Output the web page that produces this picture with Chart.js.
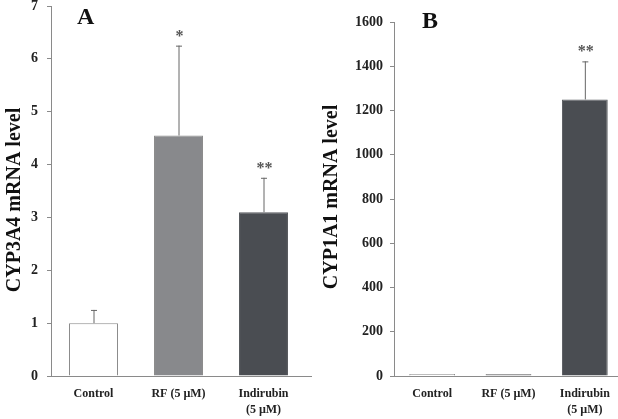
<!DOCTYPE html>
<html>
<head>
<meta charset="utf-8">
<script src="https://cdn.jsdelivr.net/npm/chart.js@4.4.1/dist/chart.umd.min.js"></script>
<style>
    body { margin: 0; background: #fff; overflow: hidden; }
    .panel { position: absolute; top: 0; height: 419px; }
    #panelA { left: 0; width: 312px; }
    #panelB { left: 310px; width: 313px; }
    .letter { position: absolute; font: bold 24px "Liberation Serif", serif; color: #111; line-height: 1; }
</style>
</head>
<body>
<div class="panel" id="panelA"><canvas id="chartA"></canvas></div>
<div class="panel" id="panelB"><canvas id="chartB"></canvas></div>
<div class="letter" style="left:77px; top:4px;">A</div>
<div class="letter" style="left:422px; top:8px;">B</div>
<script>
// Data
const categories = [['Control'], ['RF (5 µM)'], ['Indirubin', '(5 µM)']];
const cyp3a4Values = [1.0, 4.55, 3.10];
const cyp3a4Errors = [0.25, 1.70, 0.65];
const cyp3a4Marks = ['', '*', '**'];
const cyp1a1Values = [1, 2, 1250];
const cyp1a1Errors = [0, 0, 172];
const cyp1a1Marks = ['', '', '**'];

const barColors = ['#ffffff', '#88898c', '#4a4d52'];
const barBorders = ['#8a8a8a', '#8a8a8a', '#55585c'];
const serif = '"Liberation Serif", "Times New Roman", serif';

// Error bars (upper half only), significance stars, y title and axis tail
const extrasPlugin = {
    id: 'extras',
    afterDatasetsDraw(chart, args, opts) {
        const ctx = chart.ctx;
        const meta = chart.getDatasetMeta(0);
        const yScale = chart.scales.y;
        const values = chart.data.datasets[0].data;
        ctx.save();
        meta.data.forEach((bar, i) => {
            const yTop = yScale.getPixelForValue(values[i] + opts.errors[i]);
            const yBar = yScale.getPixelForValue(values[i]);
            if (opts.errors[i] > 0) {
                ctx.strokeStyle = '#666';
                ctx.lineWidth = 1;
                ctx.beginPath();
                ctx.moveTo(bar.x + 0.5, yBar);
                ctx.lineTo(bar.x + 0.5, yTop);
                ctx.moveTo(bar.x - 2.5, yTop + 0.5);
                ctx.lineTo(bar.x + 3.5, yTop + 0.5);
                ctx.stroke();
            }
            if (opts.marks[i]) {
                ctx.fillStyle = '#555';
                ctx.font = 'bold 16px ' + serif;
                ctx.textAlign = 'center';
                ctx.textBaseline = 'alphabetic';
                ctx.fillText(opts.marks[i], bar.x + 1, yTop - 5);
            }
        });
        // x axis runs a little past the last category
        const area = chart.chartArea;
        ctx.strokeStyle = '#8a8a8a';
        ctx.lineWidth = 1;
        ctx.beginPath();
        ctx.moveTo(area.right, area.bottom + 0.5);
        ctx.lineTo(chart.width, area.bottom + 0.5);
        ctx.stroke();
        // rotated y-axis title
        ctx.translate(opts.titleX, opts.titleY);
        ctx.rotate(-Math.PI / 2);
        ctx.fillStyle = '#111';
        ctx.font = 'bold 20px ' + serif;
        ctx.textAlign = 'center';
        ctx.textBaseline = 'middle';
        ctx.fillText(opts.title, 0, 0);
        ctx.restore();
    }
};

function makeChart(id, values, errors, marks, yMax, yStep, opts) {
    return new Chart(document.getElementById(id), {
        type: 'bar',
        data: {
            labels: categories,
            datasets: [{
                data: values,
                backgroundColor: barColors,
                borderColor: barBorders,
                borderWidth: 1,
                minBarLength: opts.minBar,
                barPercentage: opts.barPct,
                categoryPercentage: 1
            }]
        },
        options: {
            responsive: true,
            maintainAspectRatio: false,
            animation: false,
            layout: { padding: { top: opts.top, right: opts.right, left: 0, bottom: 0 } },
            plugins: {
                legend: { display: false },
                tooltip: { enabled: false },
                extras: { errors: errors, marks: marks, title: opts.title, titleX: opts.titleX, titleY: opts.titleY }
            },
            scales: {
                x: {
                    grid: { display: false },
                    border: { color: '#8a8a8a', width: 1 },
                    ticks: {
                        color: '#222',
                        font: { family: serif, size: 12, weight: 'bold', lineHeight: 1.35 },
                        padding: 2,
                        maxRotation: 0
                    },
                    afterFit(scale) { scale.height = 43; scale.paddingLeft = 0; scale.paddingRight = 0; }
                },
                y: {
                    min: 0,
                    max: yMax,
                    grid: { drawOnChartArea: false, drawTicks: true, tickLength: 4, color: '#8a8a8a' },
                    border: { color: '#8a8a8a', width: 1 },
                    ticks: {
                        stepSize: yStep,
                        color: '#222',
                        padding: opts.tickPad,
                        font: { family: serif, size: 14, weight: 'bold' },
                        callback: (v) => String(v)
                    },
                    afterFit(scale) { scale.width = opts.yWidth; scale.paddingTop = 0; scale.paddingBottom = 0; }
                }
            }
        },
        plugins: [extrasPlugin]
    });
}

makeChart('chartA', cyp3a4Values, cyp3a4Errors, cyp3a4Marks, 7, 1, {
    title: 'CYP3A4 mRNA level', titleX: 15, titleY: 200,
    yWidth: 51, top: 6, right: 6, barPct: 0.576, minBar: 0, tickPad: 9
});
makeChart('chartB', cyp1a1Values, cyp1a1Errors, cyp1a1Marks, 1600, 200, {
    title: 'CYP1A1 mRNA level', titleX: 22, titleY: 197,
    yWidth: 84, top: 22, right: 0, barPct: 0.6, minBar: 2, tickPad: 7
});
</script>
</body>
</html>
